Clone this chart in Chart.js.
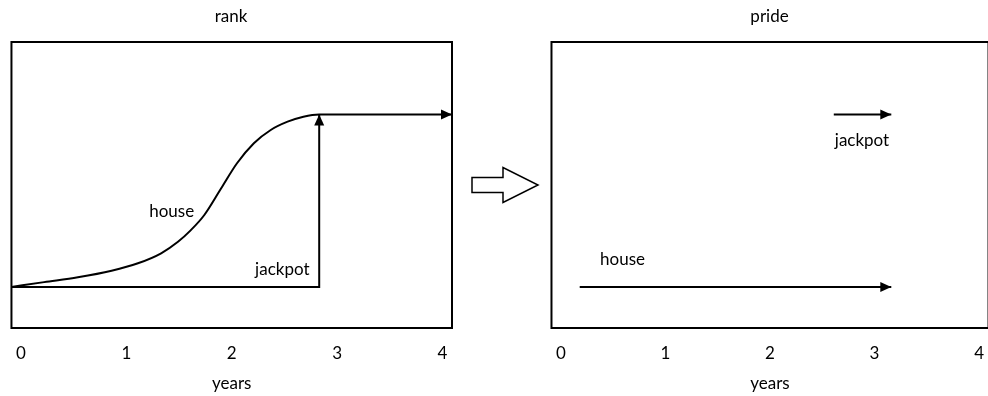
<!DOCTYPE html>
<html>
<head>
<meta charset="utf-8">
<script src="https://cdn.jsdelivr.net/npm/chart.js@4.4.1/dist/chart.umd.min.js"></script>
<style>
html, body { margin: 0; padding: 0; background: #fff; overflow: hidden; }
#wrap { position: relative; width: 988px; height: 396px; overflow: hidden; }
#rank_wrap { position: absolute; left: 0; top: 0; width: 540px; height: 396px; }
#pride_wrap { position: absolute; left: 540px; top: 0; width: 460px; height: 396px; }
</style>
</head>
<body>
<div id="wrap">
  <div id="rank_wrap"><canvas id="rank_chart" width="540" height="396"></canvas></div>
  <div id="pride_wrap"><canvas id="pride_chart" width="460" height="396"></canvas></div>
</div>
<script>
// axis
var year_ticks = [0, 1, 2, 3, 4];
var year_min = -0.09, year_max = 4.09;
var level_min = -0.238, level_max = 1.42;

// rank panel
var rank_house_years = [-0.09, 0.22, 0.54, 0.86, 1.11, 1.33, 1.49, 1.61, 1.74, 1.90, 2.05, 2.21, 2.37, 2.53, 2.68, 2.83, 4.09];
var rank_house_level = [0, 0.028, 0.056, 0.094, 0.137, 0.195, 0.262, 0.328, 0.417, 0.572, 0.717, 0.833, 0.910, 0.958, 0.987, 1.0, 1.0];
var rank_jackpot_years = [-0.09, 2.83, 2.83];
var rank_jackpot_level = [0, 0, 1];

// pride panel
var pride_house_years = [0.18, 3.16];
var pride_house_level = [0, 0];
var pride_jackpot_years = [2.61, 3.16];
var pride_jackpot_level = [1, 1];

// text labels, anchored in data units
var rank_label_text = ["house", "jackpot"];
var rank_label_years = [1.43, 2.48];
var rank_label_level = [0.44, 0.10];
var pride_label_text = ["house", "jackpot"];
var pride_label_years = [0.59, 2.88];
var pride_label_level = [0.16, 0.85];

var font_family = "Lato, 'Open Sans', sans-serif";
Chart.defaults.font.family = font_family;
Chart.defaults.font.size = 17;
Chart.defaults.color = "#000";

function toPoints(xs, ys) {
  return xs.map(function(x, i) { return { x: x, y: ys[i] }; });
}

// box round the plot area
var frame_plugin = {
  id: "frame",
  beforeDatasetsDraw: function(chart) {
    var a = chart.chartArea, ctx = chart.ctx;
    ctx.save();
    ctx.lineWidth = 2;
    ctx.strokeStyle = "#000";
    ctx.strokeRect(a.left, a.top, a.right - a.left, a.bottom - a.top);
    ctx.restore();
  }
};

// filled head at the end of a line
var arrow_plugin = {
  id: "arrows",
  afterDatasetsDraw: function(chart) {
    var ctx = chart.ctx;
    chart.data.datasets.forEach(function(ds, i) {
      if (!ds.arrowHead) return;
      var pts = chart.getDatasetMeta(i).data;
      var p1 = pts[pts.length - 2], p2 = pts[pts.length - 1];
      var ang = Math.atan2(p2.y - p1.y, p2.x - p1.x);
      ctx.save();
      ctx.translate(p2.x, p2.y);
      ctx.rotate(ang);
      ctx.beginPath();
      ctx.moveTo(0, 0);
      ctx.lineTo(-11, -5);
      ctx.lineTo(-11, 5);
      ctx.closePath();
      ctx.fillStyle = ds.borderColor;
      ctx.fill();
      ctx.restore();
    });
  }
};

var notes_plugin = {
  id: "notes",
  afterDatasetsDraw: function(chart, args, opts) {
    if (!opts || !opts.text) return;
    var ctx = chart.ctx, sx = chart.scales.x, sy = chart.scales.y;
    ctx.save();
    ctx.font = "17px " + font_family;
    ctx.fillStyle = "#000";
    ctx.textAlign = "center";
    ctx.textBaseline = "middle";
    opts.text.forEach(function(t, i) {
      ctx.fillText(t, sx.getPixelForValue(opts.years[i]), sy.getPixelForValue(opts.level[i]));
    });
    ctx.restore();
  }
};

// hollow block arrow between the two panels
var block_arrow_plugin = {
  id: "blockArrow",
  afterDraw: function(chart) {
    var a = chart.chartArea, ctx = chart.ctx;
    var r = a.right, c = (a.top + a.bottom) / 2;
    ctx.save();
    ctx.lineWidth = 1.5;
    ctx.strokeStyle = "#000";
    ctx.beginPath();
    ctx.moveTo(r + 20, c - 7.5);
    ctx.lineTo(r + 51, c - 7.5);
    ctx.lineTo(r + 51, c - 17.5);
    ctx.lineTo(r + 86, c);
    ctx.lineTo(r + 51, c + 17.5);
    ctx.lineTo(r + 51, c + 7.5);
    ctx.lineTo(r + 20, c + 7.5);
    ctx.closePath();
    ctx.stroke();
    ctx.restore();
  }
};

function lineSet(label, xs, ys, smooth) {
  return {
    label: label,
    data: toPoints(xs, ys),
    borderColor: "#000",
    borderWidth: 2,
    pointRadius: 0,
    fill: false,
    clip: false,
    tension: smooth ? 0.4 : 0,
    cubicInterpolationMode: smooth ? "monotone" : "default",
    arrowHead: true
  };
}

function panelOptions(title, padLeft, padRight, notes) {
  return {
    responsive: false,
    animation: false,
    layout: { padding: { left: padLeft, right: padRight, top: 0, bottom: 0 } },
    plugins: {
      legend: { display: false },
      tooltip: { enabled: false },
      title: {
        display: true, text: title,
        padding: { top: 6.8, bottom: 14.8 },
        font: { size: 17, weight: "normal" }, color: "#000"
      },
      notes: notes
    },
    scales: {
      x: {
        type: "linear", min: year_min, max: year_max,
        afterBuildTicks: function(s) { s.ticks = year_ticks.map(function(v) { return { value: v }; }); },
        grid: { display: false, drawTicks: false },
        border: { display: false },
        ticks: { padding: 15.8, autoSkip: false, maxRotation: 0, font: { size: 17 }, color: "#000" },
        title: { display: true, text: "years", padding: { top: -6.2, bottom: 1.8 }, font: { size: 17 }, color: "#000" }
      },
      y: { type: "linear", display: false, min: level_min, max: level_max }
    }
  };
}

var rank_chart = new Chart(document.getElementById("rank_chart").getContext("2d"), {
  type: "line",
  data: {
    datasets: [
      lineSet("house", rank_house_years, rank_house_level, true),
      lineSet("jackpot", rank_jackpot_years, rank_jackpot_level, false)
    ]
  },
  options: panelOptions("rank", 10, 88, { text: rank_label_text, years: rank_label_years, level: rank_label_level }),
  plugins: [frame_plugin, arrow_plugin, notes_plugin, block_arrow_plugin]
});

var pride_chart = new Chart(document.getElementById("pride_chart").getContext("2d"), {
  type: "line",
  data: {
    datasets: [
      lineSet("house", pride_house_years, pride_house_level, false),
      lineSet("jackpot", pride_jackpot_years, pride_jackpot_level, false)
    ]
  },
  options: panelOptions("pride", 9, 10, { text: pride_label_text, years: pride_label_years, level: pride_label_level }),
  plugins: [frame_plugin, arrow_plugin, notes_plugin]
});
</script>
</body>
</html>
